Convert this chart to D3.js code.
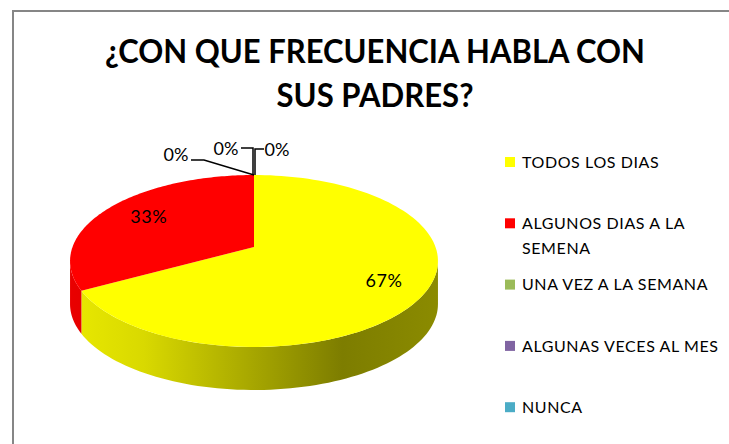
<!DOCTYPE html>
<html>
<head>
<meta charset="utf-8">
<script src="https://cdn.jsdelivr.net/npm/d3@7"></script>
<style>
  body { margin: 0; background: #fff; }
  text { font-family: Lato, "Open Sans", sans-serif; fill: #000; }
</style>
</head>
<body>
<div class="chart"></div>
<script>
// ¿Con que frecuencia habla con sus padres? - 3D pie

var categories = ["TODOS LOS DIAS", "ALGUNOS DIAS A LA SEMENA", "UNA VEZ A LA SEMANA", "ALGUNAS VECES AL MES", "NUNCA"];
var values = [67, 33, 0, 0, 0];
var colors = ["#ffff00", "#ff0000", "#9bbb59", "#8064a2", "#4bacc6"];
var titleLines = ["¿CON QUE FRECUENCIA HABLA CON", "SUS PADRES?"];
var legendLines = [["TODOS LOS DIAS"], ["ALGUNOS DIAS A LA", "SEMENA"], ["UNA VEZ A LA SEMANA"], ["ALGUNAS VECES AL MES"], ["NUNCA"]];

var svgWidth = 729;
var svgHeight = 444;

var svg = d3.select(".chart")
  .append("svg")
  .attr("width", svgWidth)
  .attr("height", svgHeight);

// frame
svg.append("rect")
  .attr("x", 13).attr("y", 11)
  .attr("width", 740).attr("height", 460)
  .attr("fill", "none")
  .attr("stroke", "#868686")
  .attr("stroke-width", 2);

// title
svg.selectAll(".title")
  .data(titleLines)
  .enter().append("text")
  .attr("class", "title")
  .attr("x", 375)
  .attr("y", function(d, i) { return 63 + i * 44; })
  .attr("text-anchor", "middle")
  .attr("font-size", "33px")
  .attr("font-weight", "bold")
  .attr("textLength", function(d, i) { return i === 0 ? 540 : 197; })
  .attr("lengthAdjust", "spacingAndGlyphs")
  .text(function(d) { return d; });

// pie geometry, with a little perspective (near side bigger)
var cx = 254, cy = 247, sx = 181.5, sy = 83.7, k = 0.163, depth = 43;

var pie = d3.pie().sort(null).value(function(d) { return d; });
var arcs = pie(values);
var total = d3.sum(values);
var fmt = d3.format(".0%");

// angle a (clockwise from top), radius r in [0,1]
function pt(a, r, dy) {
  r = r === undefined ? 1 : r;
  var u = r * Math.sin(a), v = -r * Math.cos(a);
  var w = 1 - k * v;
  return [cx + sx * u / w, cy + sy * v / w + (dy || 0)];
}

// side gradients
var defs = svg.append("defs");
colors.forEach(function(c, i) {
  var base = d3.rgb(c);
  var g = defs.append("linearGradient")
    .attr("id", "side" + i)
    .attr("gradientUnits", "userSpaceOnUse")
    .attr("x1", cx - 184).attr("x2", cx + 184)
    .attr("y1", 0).attr("y2", 0);
  g.append("stop").attr("offset", 0).attr("stop-color", base.darker(0.25));
  g.append("stop").attr("offset", 0.2).attr("stop-color", base.darker(0.45));
  g.append("stop").attr("offset", 0.74).attr("stop-color", base.darker(2.0));
  g.append("stop").attr("offset", 1).attr("stop-color", base.darker(1.7));
});

// front side walls (visible silhouette where cos a < -k)
var aMin = Math.acos(-k), aMax = 2 * Math.PI - Math.acos(-k);
arcs.forEach(function(d, i) {
  var a0 = Math.max(d.startAngle, aMin);
  var a1 = Math.min(d.endAngle, aMax);
  if (a1 <= a0) return;
  var n = 80, top = [], bot = [];
  for (var j = 0; j <= n; j++) {
    var a = a0 + (a1 - a0) * j / n;
    top.push(pt(a));
    bot.push(pt(a, 1, depth));
  }
  svg.append("path")
    .attr("d", d3.line()(top.concat(bot.reverse())) + "Z")
    .attr("fill", "url(#side" + i + ")");
});

// top faces
arcs.forEach(function(d, i) {
  if (d.endAngle - d.startAngle <= 0) return;
  var n = 120, pts = [[cx, cy]];
  for (var j = 0; j <= n; j++) {
    pts.push(pt(d.startAngle + (d.endAngle - d.startAngle) * j / n));
  }
  svg.append("path")
    .attr("d", d3.line()(pts) + "Z")
    .attr("fill", colors[i]);
});

// percentage labels inside
arcs.forEach(function(d, i) {
  if (d.value <= 0) return;
  var p = pt((d.startAngle + d.endAngle) / 2, 0.75);
  svg.append("text")
    .attr("x", p[0] + 5)
    .attr("y", p[1])
    .attr("dy", "0.35em")
    .attr("text-anchor", "middle")
    .attr("font-size", "18px")
    .attr("letter-spacing", "0.5px")
    .text(fmt(d.value / total));
});

// zero-value labels with leader lines
var zeroOffsets = [[-78, -20], [-28, -26], [23, -25]];
var zi = 0;
var top0 = pt(0);
arcs.forEach(function(d, i) {
  if (d.value > 0) return;
  var off = zeroOffsets[zi++];
  var lx = top0[0] + off[0], ly = top0[1] + off[1];
  var line;
  if (off[0] < -50) {
    line = [[lx + 15, ly + 5], [top0[0] - 50, ly + 5], [top0[0], top0[1]]];
  } else {
    var s = off[0] < 0 ? -1 : 1;
    line = [[off[0] < 0 ? lx + 15 : lx - 13, ly - 1], [top0[0] + s, ly - 1], [top0[0] + s, top0[1]]];
  }
  svg.append("path")
    .attr("d", d3.line()(line))
    .attr("fill", "none")
    .attr("stroke", "#000")
    .attr("stroke-width", 1.5);
  svg.append("text")
    .attr("x", lx)
    .attr("y", ly)
    .attr("dy", "0.35em")
    .attr("text-anchor", "middle")
    .attr("font-size", "18px")
    .text(fmt(d.value / total));
});

// legend
var legend = svg.selectAll(".legend")
  .data(categories)
  .enter().append("g")
  .attr("class", "legend")
  .attr("transform", function(d, i) { return "translate(505," + (162 + i * 61.3) + ")"; });

legend.append("rect")
  .attr("x", 0).attr("y", -5)
  .attr("width", 10).attr("height", 10)
  .attr("fill", function(d, i) { return colors[i]; });

legend.append("text")
  .attr("font-size", "16px")
  .attr("letter-spacing", "0.6px")
  .selectAll("tspan")
  .data(function(d, i) { return legendLines[i]; })
  .enter().append("tspan")
  .attr("x", 17)
  .attr("y", function(d, j) { return j * 25; })
  .attr("dy", "0.36em")
  .text(function(d) { return d; });
</script>
</body>
</html>
